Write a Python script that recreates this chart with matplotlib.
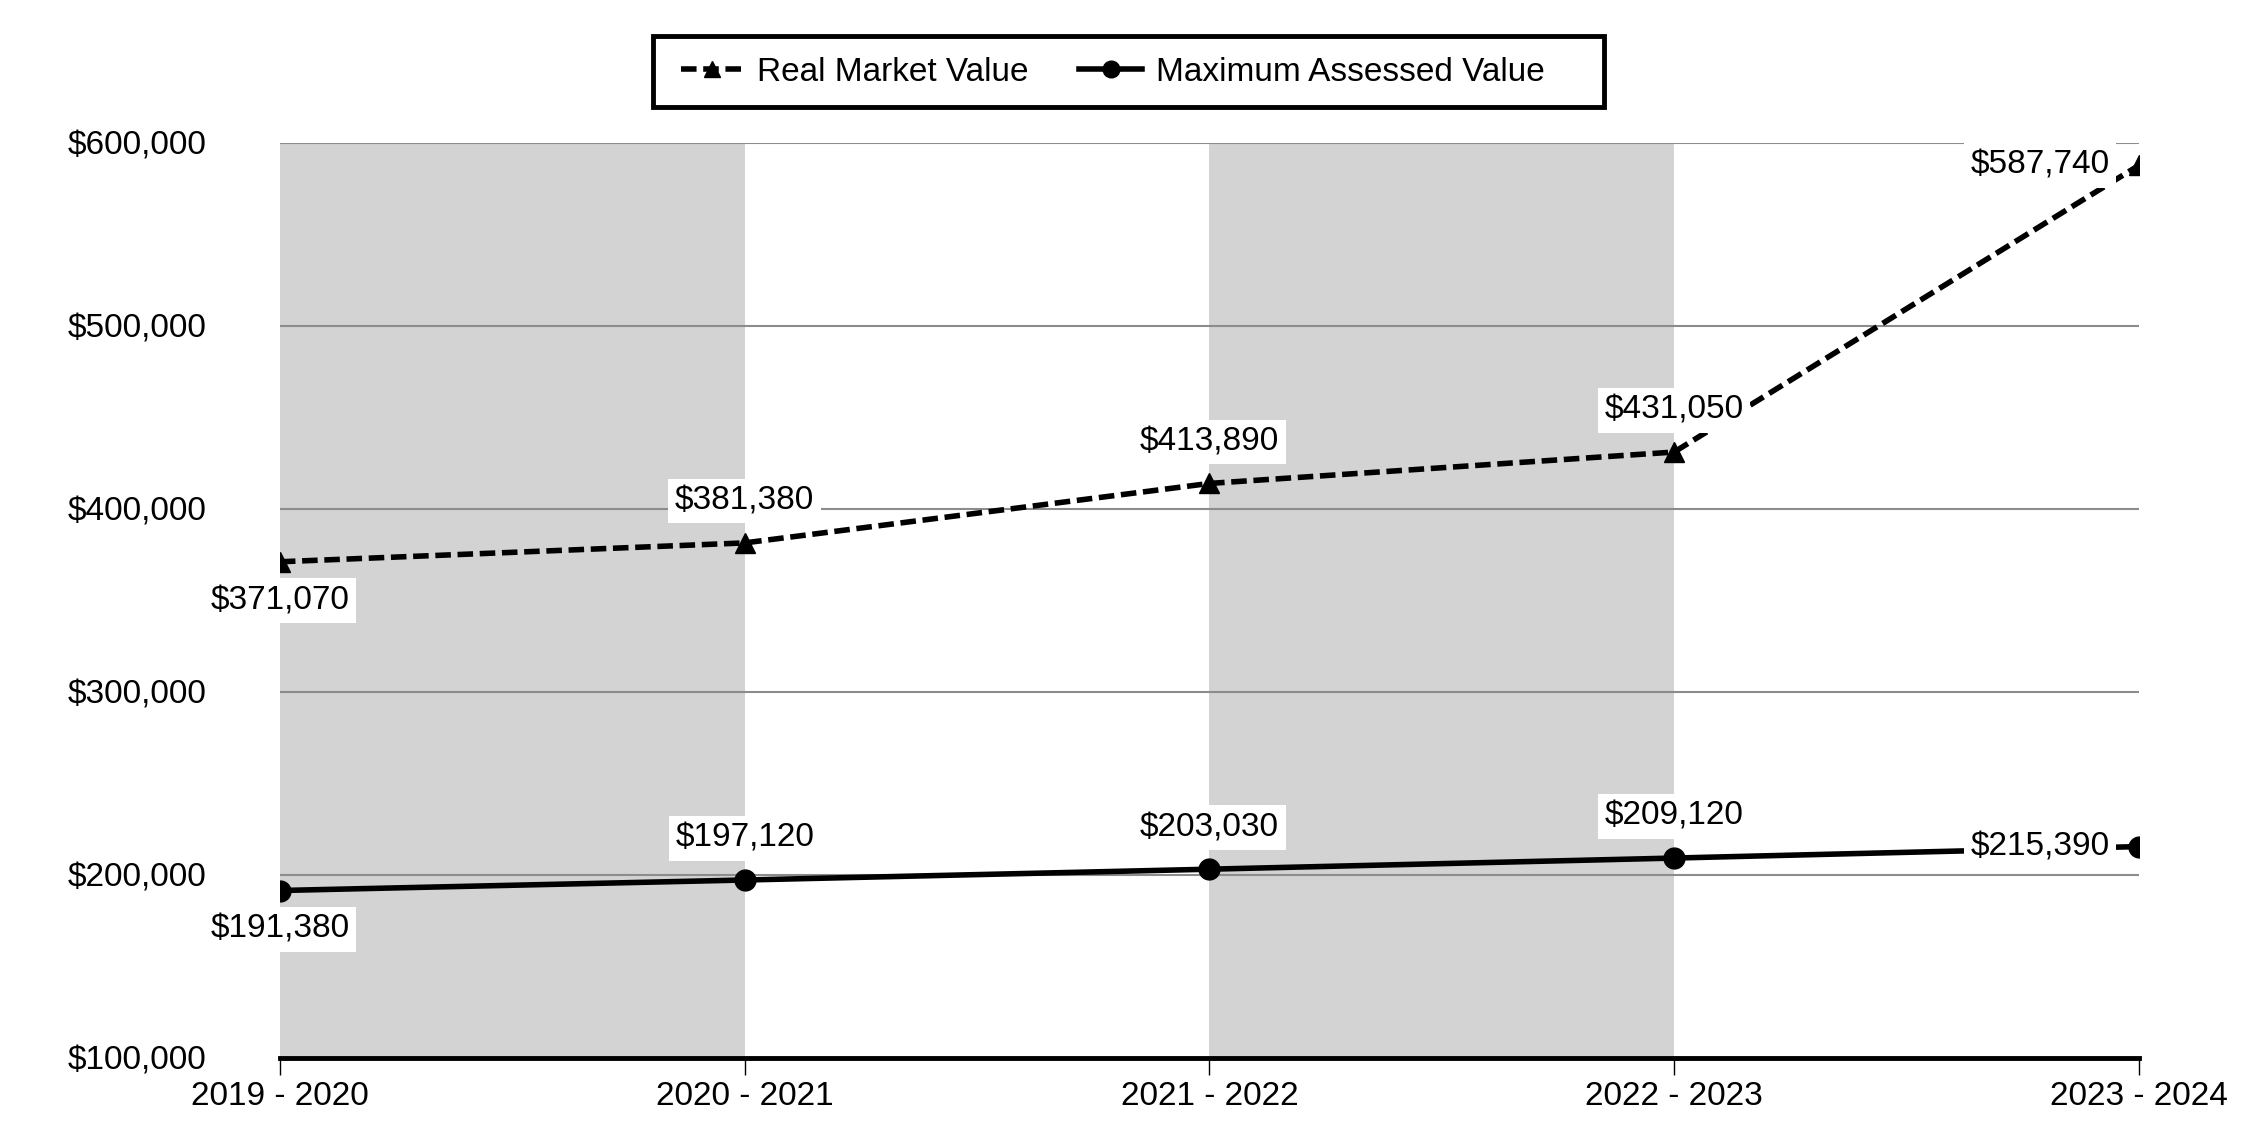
import matplotlib
matplotlib.use('Agg')
import matplotlib.pyplot as plt
from matplotlib.patches import Rectangle
from matplotlib.ticker import FuncFormatter

plt.rcParams['font.family'] = ['Liberation Sans', 'DejaVu Sans']
plt.rcParams['font.size'] = 24

# 数据
years = ['2019 - 2020', '2020 - 2021', '2021 - 2022', '2022 - 2023', '2023 - 2024']
real_market = [371070, 381380, 413890, 431050, 587740]
max_assessed = [191380, 197120, 203030, 209120, 215390]
# 标签位置: below / above / left
rmv_pos = ['below', 'above', 'above', 'above', 'left']
mav_pos = ['below', 'above', 'above', 'above', 'left']

fig = plt.figure(figsize=(22.5, 11.4), dpi=100)
ax = fig.add_axes([0.1244, 0.0722, 0.8262, 0.8024])

x = list(range(len(years)))

# 交替灰色背景
for i in range(0, len(years) - 1, 2):
    ax.axvspan(i, i + 1, color='#d3d3d3', zorder=0, lw=0)

ax.plot(x, real_market, '--', color='black', lw=4, marker='^', markersize=15,
        dashes=(2.8, 1.2), label='Real Market Value', zorder=3)
ax.plot(x, max_assessed, '-', color='black', lw=4, marker='o', markersize=15,
        label='Maximum Assessed Value', zorder=3)


def put_labels(vals, pos):
    for xi, v, p in zip(x, vals, pos):
        if p == 'below':
            off, ha, va = (0, -28), 'center', 'center'
        elif p == 'above':
            off, ha, va = (0, 30), 'center', 'center'
        else:
            off, ha, va = (-21, 0), 'right', 'center'
        ax.annotate(f'${v:,}', xy=(xi, v), xytext=off, textcoords='offset points',
                    ha=ha, va=va, fontsize=24, zorder=5,
                    bbox=dict(boxstyle='square,pad=0.2', facecolor='white', edgecolor='none'))


put_labels(real_market, rmv_pos)
put_labels(max_assessed, mav_pos)

ax.set_xlim(0, len(years) - 1)
ax.set_ylim(100000, 600000)
ax.set_yticks(range(100000, 600001, 100000))
ax.yaxis.set_major_formatter(FuncFormatter(lambda v, _: f'${int(v):,}'))
ax.set_xticks(x)
ax.set_xticklabels(years)

ax.grid(axis='y', color='#8c8c8c', lw=1.5, zorder=1)
ax.set_axisbelow(False)
for gl in ax.get_ygridlines():
    gl.set_zorder(1)

for s in ['top', 'right', 'left']:
    ax.spines[s].set_visible(False)
ax.spines['bottom'].set_linewidth(3.5)
ax.spines['bottom'].set_zorder(4)
ax.tick_params(axis='y', length=0, pad=53, labelsize=24)
ax.tick_params(axis='x', length=12, width=1, pad=5, labelsize=24)

# 图例：内容居中放置，外框单独画（右侧留白较多）
leg = fig.legend(loc='center', bbox_to_anchor=(0.4945, 0.9365), ncol=2, fontsize=24,
                 frameon=False, handlelength=1.9, columnspacing=1.5,
                 borderpad=0, handletextpad=0.4)
for h in leg.legend_handles:
    h.set_markersize(12)
fig.patches.append(Rectangle((653 / 2250, 1 - 107 / 1140), (1604 - 653) / 2250, 71 / 1140,
                             transform=fig.transFigure, fill=False, edgecolor='black',
                             lw=3.5, zorder=5))

fig.savefig('out.png', dpi=100, facecolor='white')
